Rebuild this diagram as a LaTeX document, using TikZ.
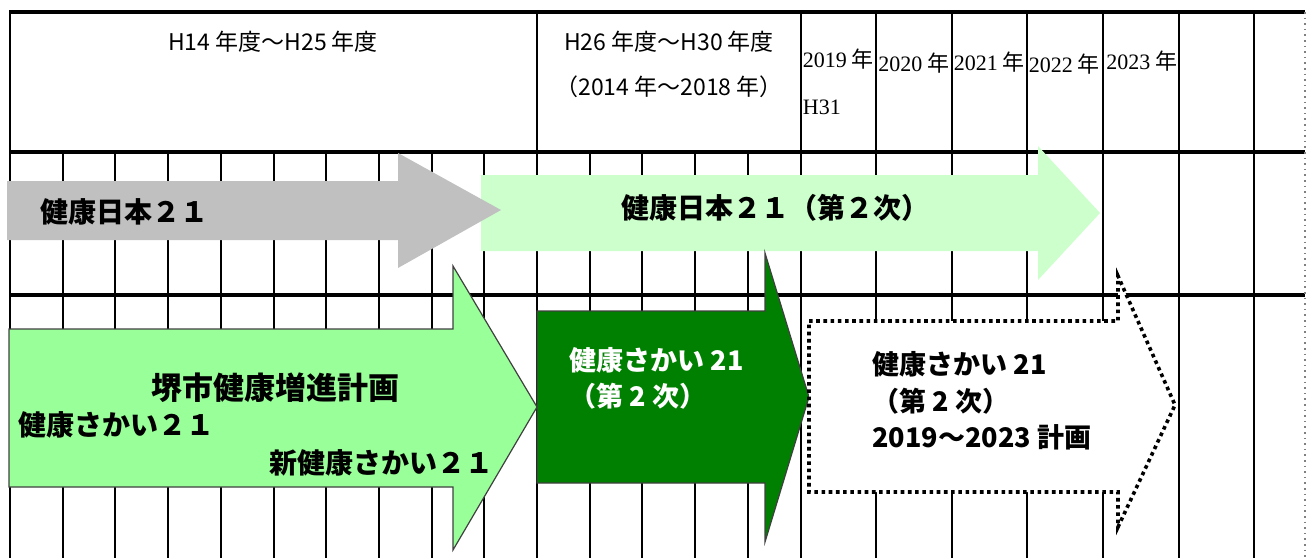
\documentclass[tikz,border=0pt]{standalone}
\usepackage{fontspec}
\setmainfont{Noto Sans CJK JP}
\newfontfamily\yearfont{Liberation Serif}
\usepackage{tikz}
\usetikzlibrary{calc}
\definecolor{oldgray}{HTML}{C0C0C0}
\definecolor{palegreen}{HTML}{CCFFCC}
\definecolor{sakaigreen}{HTML}{99FF99}
\definecolor{deepgreen}{HTML}{008000}

\begin{document}
\begin{tikzpicture}[x=0.5pt,y=-0.5pt,
    rule/.style={line width=2pt},
    gridline/.style={line width=1pt},
    plan/.style={draw=black!75,line width=0.6pt},
    headtext/.style={inner sep=0pt,font=\fontsize{11.5}{14}\selectfont},
    yeartext/.style={inner sep=0pt,anchor=west,font=\fontsize{11}{14}\selectfont},
    tag/.style={inner sep=0pt,font=\fontsize{14}{18}\selectfont\bfseries},
    subtag/.style={inner sep=0pt,anchor=west,align=left,
      font=\fontsize{13.5}{18.25}\selectfont\bfseries}]
%
  \useasboundingbox (0,0) rectangle (1311,558);
%
  \foreach \k in {1,...,14}
    \draw [gridline] ({10+52.7*\k},152) -- ({10+52.7*\k},558) ;
  \foreach \gx in {10,537}
    \draw [gridline] (\gx,12) -- (\gx,558) ;
  \foreach \m in {0,...,6}
    \draw [gridline] ({800.5+75.6*\m},12) -- ({800.5+75.6*\m},558) ;
  \foreach \gy in {12,152,295}
    \draw [rule] (9,\gy) -- (1305,\gy) ;
  \draw [gray,dotted,line width=0.8pt] (1305,12) -- (1305,558) ;
%
  \node [headtext] (hold) at (273,42) {H14 年度～H25 年度} ;
  \node [headtext] (hmid) at (669,42) {H26 年度～H30 年度} ;
  \node [headtext] (hmidsub) at (669,87) {（2014 年～2018 年）} ;
%
  \node [yeartext] (y2019) at (802.5,59) {{\yearfont 2019} 年} ;
  \node [yeartext] (h31) at (802.5,107) {\yearfont H31} ;
  \node [yeartext] (y2020) at (878,63) {{\yearfont 2020} 年} ;
  \node [yeartext] (y2021) at (953.5,62) {{\yearfont 2021} 年} ;
  \node [yeartext] (y2022) at (1028.5,64) {{\yearfont 2022} 年} ;
  \node [yeartext] (y2023) at (1106,61) {{\yearfont 2023} 年} ;
%
  \fill [palegreen] (481,175) -- (1038,175) -- (1038,146) -- (1100,213)
    -- (1038,280) -- (1038,251) -- (481,251) -- cycle ;
  \fill [oldgray] (7,181) -- (398,181) -- (398,153) -- (501,210)
    -- (398,268) -- (398,240) -- (7,240) -- cycle ;
  \node [tag,anchor=west] (nihon) at (40,212) {健康日本２１} ;
  \node [tag] (nihon2) at (775,208) {健康日本２１（第２次）} ;
%
  \filldraw [plan,fill=sakaigreen] (9,329) -- (453,329) -- (453,266) -- (537,407)
    -- (453,550) -- (453,487) -- (9,487) -- cycle ;
  \node [tag,font=\fontsize{15.5}{18}\selectfont\bfseries] (sakai) at (275,388) {堺市健康増進計画} ;
  \node [tag,anchor=west] (sakaiold) at (18,425) {健康さかい２１} ;
  \node [tag,anchor=east] (sakainew) at (494,463) {新健康さかい２１} ;
%
  \filldraw [plan,fill=deepgreen] (537,311) -- (765,311) -- (765,253) -- (809,397)
    -- (765,542) -- (765,483) -- (537,483) -- cycle ;
  \node [subtag,white] (second) at (569,378.5) {健康さかい 21\\（第 2 次）} ;
%
  \filldraw [fill=white,line width=1.8pt,dash pattern=on 1.8pt off 1.8pt]
    (809,321) -- (1118,321) -- (1118,276) -- (1175,405)
    -- (1118,527) -- (1118,492) -- (809,492) -- cycle ;
  \node [subtag] (next) at (872,401) {健康さかい 21\\（第 2 次）\\2019～2023 計画} ;
%
\end{tikzpicture}
\end{document}
